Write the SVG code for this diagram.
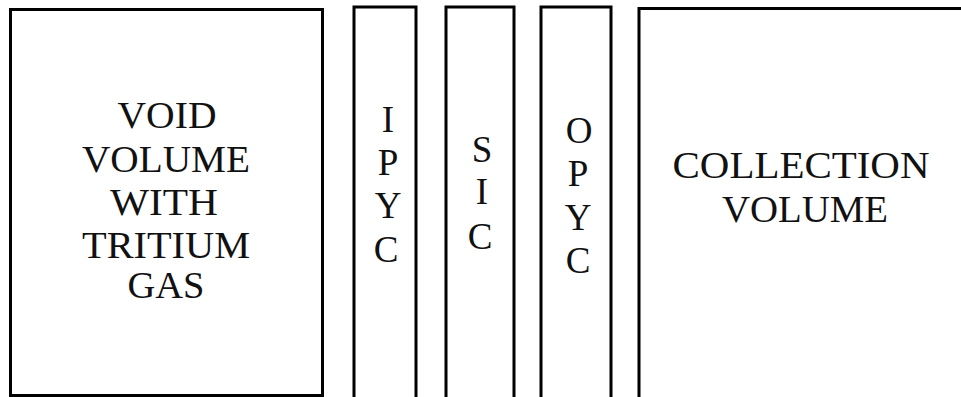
<svg xmlns="http://www.w3.org/2000/svg" width="961" height="397" viewBox="0 0 961 397">
<style>
.b{fill:none;stroke:#000;stroke-width:3;stroke-linejoin:miter}
.t{font-family:"Liberation Serif","Times New Roman",serif;font-size:37px;fill:#111;text-anchor:middle}
</style>
<rect width="961" height="397" fill="#fff"/>
<g id="void">
<path class="b" d="M10.5,395.5 V9.5 H322.5 V395.5 Z"/>
<text class="t" x="167" y="128" textLength="99" lengthAdjust="spacingAndGlyphs">VOID</text>
<text class="t" x="166" y="172" textLength="168" lengthAdjust="spacingAndGlyphs">VOLUME</text>
<text class="t" x="164" y="215" textLength="108" lengthAdjust="spacingAndGlyphs">WITH</text>
<text class="t" x="166" y="258" textLength="168" lengthAdjust="spacingAndGlyphs">TRITIUM</text>
<text class="t" x="166" y="298" textLength="77" lengthAdjust="spacingAndGlyphs">GAS</text>
</g>
<g id="ipyc">
<path class="b" d="M354,397 V7 H416 V397"/>
<text class="t" x="388" y="132">I</text>
<text class="t" x="388" y="175">P</text>
<text class="t" x="388" y="218">Y</text>
<text class="t" x="386" y="262">C</text>
</g>
<g id="sic">
<path class="b" d="M446,397 V7 H514 V397"/>
<text class="t" x="482" y="162">S</text>
<text class="t" x="482" y="204">I</text>
<text class="t" x="480" y="249">C</text>
</g>
<g id="opyc">
<path class="b" d="M541,397 V7 H611 V397"/>
<text class="t" x="579" y="143">O</text>
<text class="t" x="578" y="186">P</text>
<text class="t" x="578" y="230">Y</text>
<text class="t" x="578" y="273">C</text>
</g>
<g id="collection">
<path class="b" d="M639,397 V8.5 H961"/>
<text class="t" x="801" y="178" textLength="257" lengthAdjust="spacingAndGlyphs">COLLECTION</text>
<text class="t" x="805" y="222" textLength="166" lengthAdjust="spacingAndGlyphs">VOLUME</text>
</g>
<g id="connectors"></g>
</svg>
